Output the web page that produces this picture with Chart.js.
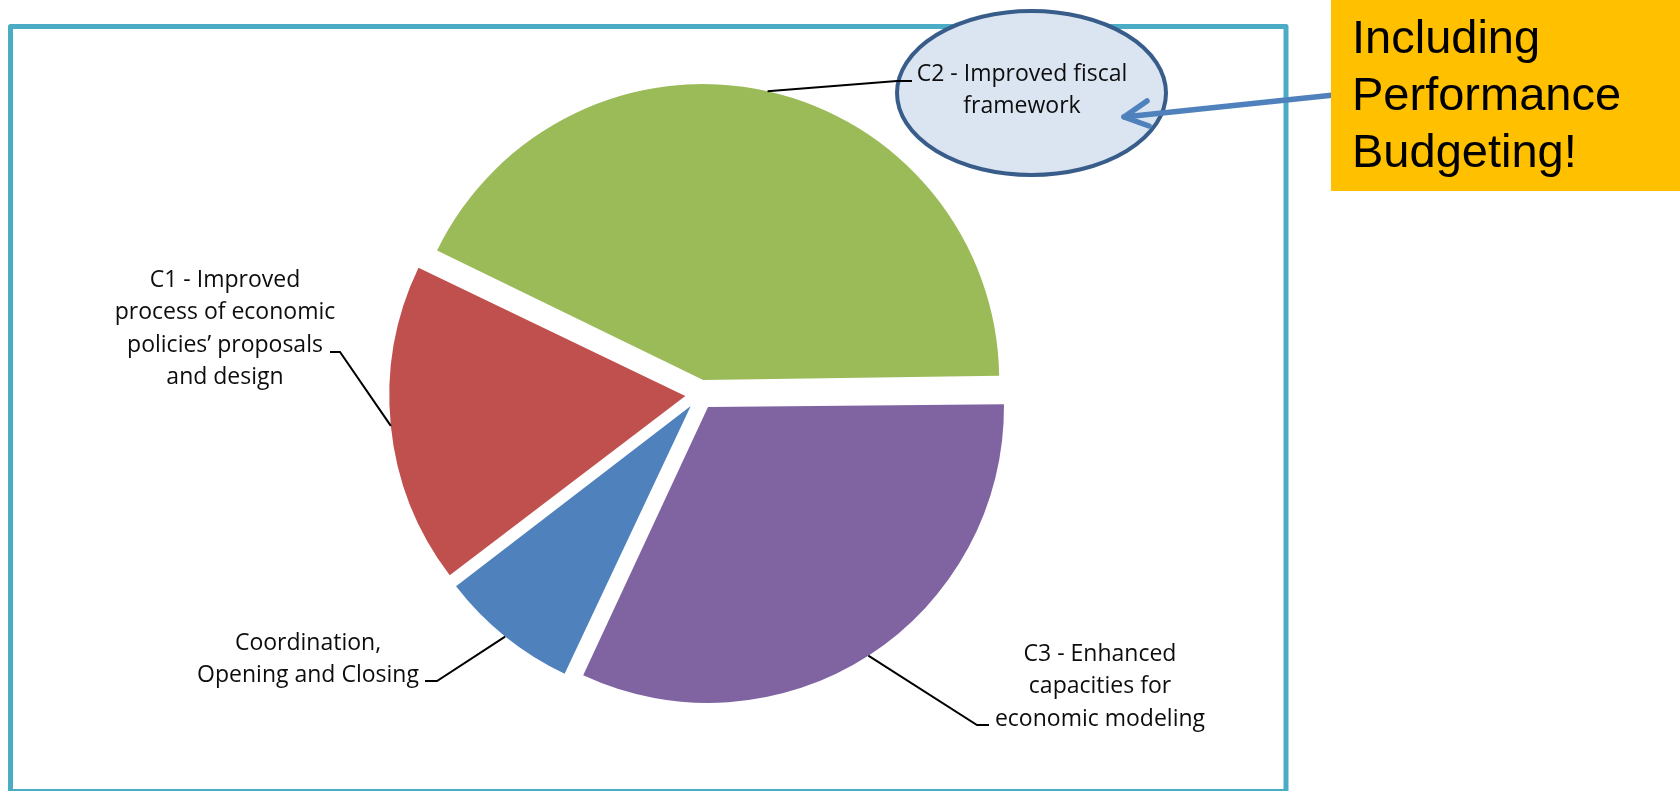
<!DOCTYPE html>
<html>
<head>
<meta charset="utf-8">
<script src="https://cdn.jsdelivr.net/npm/chart.js@4.4.1/dist/chart.umd.min.js"></script>
<style>
  html, body { margin: 0; padding: 0; background: #fff; }
  #wrap { width: 1680px; height: 791px; }
</style>
</head>
<body>
<div id="wrap"><canvas id="graficoTorta" width="1680" height="791"></canvas></div>
<script>
// datos del gráfico (en %)
const categorias = [
  "C1 - Improved process of economic policies’ proposals and design",
  "C2 - Improved fiscal framework",
  "C3 - Enhanced capacities for economic modeling",
  "Coordination, Opening and Closing"
];
const valores = [17.5, 42.7, 32.1, 7.7];
const colores = ["#C0504D", "#9BBB59", "#8064A2", "#4F81BD"];

// las etiquetas tal como se cortan en la imagen
const lineasEtiqueta = [
  ["C1 - Improved", "process of economic", "policies’ proposals", "and design"],
  ["C2 - Improved fiscal", "framework"],
  ["C3 - Enhanced", "capacities for", "economic modeling"],
  ["Coordination,", "Opening and Closing"]
];
const notaLineas = ["Including", "Performance", "Budgeting!"];

// ubicación de cada etiqueta y su línea guía
const ubicaciones = [
  { cx: 225, base: 287, codo: [340, 352], fin: [330, 352] },
  { cx: 1022, base: 81, codo: [897, 81], fin: [912, 81] },
  { cx: 1100, base: 661, codo: [977, 725], fin: [989, 725] },
  { cx: 308, base: 650, codo: [437, 681], fin: [425, 681] }
];

const explosion = 59;   // offset de las porciones
const interlineado = 32.4;

// chart.js agranda el radio de algunas porciones al separarlas, lo compensamos
const radioParejo = {
  id: "radioParejo",
  afterDatasetUpdate(chart) {
    chart.getDatasetMeta(0).data.forEach(arc => {
      const fix = 1 - Math.sin(Math.min(Math.PI, arc.circumference));
      arc.outerRadius -= (explosion / 4) * fix;
    });
  }
};

// marco celeste detrás de la torta
const marco = {
  id: "marco",
  beforeDraw(chart) {
    const ctx = chart.ctx;
    ctx.save();
    ctx.fillStyle = "#fff";
    ctx.fillRect(0, 0, chart.width, chart.height);
    ctx.strokeStyle = "#4BACC6";
    ctx.lineWidth = 5;
    ctx.lineJoin = "round";
    ctx.strokeRect(10.5, 26.5, 1275.5, 765);
    ctx.restore();
  }
};

// etiquetas, óvalo, flecha y cartel amarillo
const anotaciones = {
  id: "anotaciones",
  afterDraw(chart) {
    const ctx = chart.ctx;
    const arcos = chart.getDatasetMeta(0).data;
    ctx.save();

    // óvalo sobre la etiqueta C2
    ctx.beginPath();
    ctx.ellipse(1031.5, 93, 134.5, 82, 0, 0, Math.PI * 2);
    ctx.fillStyle = "#DBE5F1";
    ctx.fill();
    ctx.lineWidth = 4;
    ctx.strokeStyle = "#385D8A";
    ctx.stroke();

    // líneas guía
    ctx.strokeStyle = "#000";
    ctx.lineWidth = 2;
    arcos.forEach((arc, i) => {
      const medio = (arc.startAngle + arc.endAngle) / 2;
      const fix = 1 - Math.sin(Math.min(Math.PI, arc.circumference));
      const d = explosion / 4;
      const r = d + arc.outerRadius + d * fix;
      const ax = arc.x + Math.cos(medio) * r;
      const ay = arc.y + Math.sin(medio) * r;
      const u = ubicaciones[i];
      ctx.beginPath();
      ctx.moveTo(ax, ay);
      ctx.lineTo(u.codo[0], u.codo[1]);
      ctx.lineTo(u.fin[0], u.fin[1]);
      ctx.stroke();
    });

    // textos
    ctx.fillStyle = "#0D0D0D";
    ctx.font = '23px "Open Sans"';
    ctx.textAlign = "center";
    ctx.textBaseline = "alphabetic";
    lineasEtiqueta.forEach((lineas, i) => {
      const u = ubicaciones[i];
      lineas.forEach((t, k) => ctx.fillText(t, u.cx, u.base + k * interlineado));
    });

    // flecha
    ctx.strokeStyle = "#4F81BD";
    ctx.lineWidth = 5.5;
    ctx.lineCap = "round";
    ctx.lineJoin = "round";
    ctx.beginPath();
    ctx.moveTo(1334, 95);
    ctx.lineTo(1124, 117);
    ctx.stroke();
    ctx.beginPath();
    ctx.moveTo(1147, 101);
    ctx.lineTo(1124, 117);
    ctx.lineTo(1149, 126);
    ctx.stroke();

    // cartel amarillo
    ctx.fillStyle = "#FFC000";
    ctx.fillRect(1331, 0, 349, 191);
    ctx.fillStyle = "#000";
    ctx.font = '47px "Liberation Sans", Arial, sans-serif';
    ctx.textAlign = "left";
    notaLineas.forEach((t, k) => ctx.fillText(t, 1352, 53 + k * 57));

    ctx.restore();
  }
};

const ctx = document.querySelector("#graficoTorta").getContext("2d");

const grafico = new Chart(ctx, {
  type: "pie",
  data: {
    labels: categorias,
    datasets: [{
      data: valores,
      backgroundColor: colores,
      borderWidth: 0,
      offset: explosion,
      hoverOffset: explosion
    }]
  },
  options: {
    responsive: false,
    animation: false,
    events: [],
    rotation: 232.7,
    radius: 296,
    layout: { padding: { left: 0, right: 280, top: 0, bottom: 2 } },
    plugins: {
      legend: { display: false },
      tooltip: { enabled: false }
    }
  },
  plugins: [marco, radioParejo, anotaciones]
});
</script>
</body>
</html>
